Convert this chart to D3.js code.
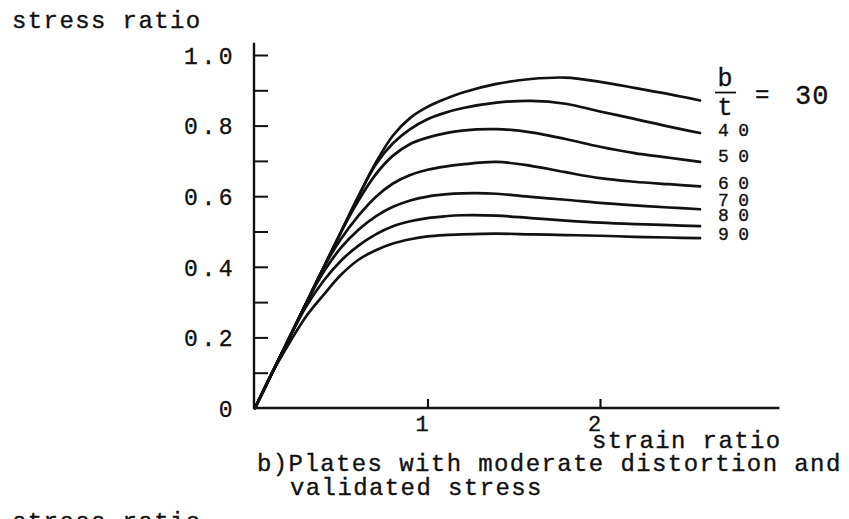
<!DOCTYPE html>
<html><head><meta charset="utf-8">
<script src="https://cdn.jsdelivr.net/npm/d3@7"></script>
<style>
html,body{margin:0;padding:0;background:#fff;}
svg{display:block;}
text{font-family:"Liberation Mono","DejaVu Sans Mono",monospace;fill:#111;stroke:#111;stroke-width:0.35px;}
</style></head>
<body>
<svg id="chart" width="849" height="519"></svg>
<script>
// ---- data ----
const strain = [0,0.1,0.2,0.3,0.4,0.5,0.6,0.7,0.8,0.9,1.0,1.1,1.2,1.4,1.6,1.8,2.0,2.2,2.4,2.58];
const bt30 = [0,0.1,0.2,0.3,0.4,0.5,0.6,0.695,0.772,0.822,0.853,0.875,0.893,0.918,0.932,0.936,0.924,0.907,0.889,0.871];
const bt40 = [0,0.1,0.2,0.3,0.4,0.5,0.6,0.69,0.75,0.79,0.818,0.836,0.849,0.865,0.870,0.862,0.840,0.819,0.797,0.779];
const bt50 = [0,0.1,0.2,0.3,0.4,0.5,0.588,0.662,0.715,0.748,0.766,0.778,0.786,0.790,0.781,0.762,0.740,0.722,0.709,0.697];
const bt60 = [0,0.1,0.2,0.3,0.4,0.48,0.545,0.598,0.636,0.660,0.675,0.684,0.690,0.697,0.686,0.668,0.651,0.641,0.634,0.628];
const bt70 = [0,0.1,0.2,0.3,0.387,0.455,0.505,0.543,0.570,0.588,0.599,0.605,0.608,0.607,0.598,0.590,0.581,0.574,0.568,0.563];
const bt80 = [0,0.1,0.2,0.29,0.362,0.418,0.46,0.492,0.515,0.529,0.538,0.543,0.546,0.545,0.538,0.531,0.525,0.521,0.518,0.515];
const bt90 = [0,0.1,0.185,0.262,0.322,0.378,0.42,0.447,0.466,0.478,0.486,0.490,0.492,0.494,0.492,0.490,0.488,0.485,0.483,0.481];
const seriesNames = ["30","40","50","60","70","80","90"];
const seriesValues = [bt30,bt40,bt50,bt60,bt70,bt80,bt90];
const yTickValues = [0,0.1,0.2,0.3,0.4,0.5,0.6,0.7,0.8,0.9,1.0];
const yTickLabels = ["0","","0.2","","0.4","","0.6","","0.8","","1.0"];
const xTickValues = [1,2];
const xTickLabels = ["1","2"];

// ---- layout ----
const svg = d3.select("#chart");
const x = d3.scaleLinear().domain([0,3]).range([255,772.5]);
const y = d3.scaleLinear().domain([0,1]).range([408,55]);
const labelDy = [0,-3,-6,-4,-10,-12,-5]; // label offsets from curve end (px)

const ink = "#111";

// y axis
const yAxis = d3.axisLeft(y).tickValues(yTickValues).tickSizeInner(-14).tickSizeOuter(0)
  .tickFormat((d,i)=>yTickLabels[i]).tickPadding(18);
const gy = svg.append("g").attr("transform",`translate(${x(0)-1},0)`).call(yAxis);
gy.select(".domain").remove();
gy.selectAll(".tick line").attr("stroke",ink).attr("stroke-width",2).filter(d=>d===0).remove();
gy.selectAll(".tick text").attr("font-size",23).attr("letter-spacing","3.5px")
  .attr("font-family","Liberation Mono").attr("fill",ink).attr("dy","0.36em");
svg.append("line").attr("x1",x(0)-1).attr("x2",x(0)-1).attr("y1",y(0)+1).attr("y2",y(1.035))
  .attr("stroke",ink).attr("stroke-width",2.4);

// x axis
const xAxis = d3.axisBottom(x).tickValues(xTickValues).tickSizeInner(-9).tickSizeOuter(0)
  .tickFormat((d,i)=>xTickLabels[i]).tickPadding(5);
const gx = svg.append("g").attr("transform",`translate(0,${y(0)})`).call(xAxis);
gx.select(".domain").remove();
gx.selectAll(".tick line").attr("stroke",ink).attr("stroke-width",2.2);
gx.selectAll(".tick text").attr("font-size",22).attr("font-family","Liberation Mono")
  .attr("fill",ink).attr("dx","-6").attr("dy","0.8em");
svg.append("line").attr("x1",x(0)-2).attr("x2",x(3.04)).attr("y1",y(0)).attr("y2",y(0))
  .attr("stroke",ink).attr("stroke-width",2.4);

// curves
const line = d3.line().x((d,i)=>x(strain[i])).y(d=>y(d)).curve(d3.curveCatmullRom.alpha(0.5));
svg.append("g").selectAll("path").data(seriesValues).join("path")
  .attr("d",line).attr("fill","none").attr("stroke",ink).attr("stroke-width",2.7)
  .attr("stroke-linejoin","round").attr("stroke-linecap","round");

// curve labels
const last = strain.length-1;
const lx = x(strain[last]) + 18;
seriesNames.forEach((nm,i)=>{
  if(i===0) return;
  svg.append("text").attr("x",lx).attr("y",y(seriesValues[i][last])+labelDy[i])
    .attr("dy","0.35em").attr("font-size",18).attr("letter-spacing","9.5px")
    .attr("stroke-width",0.2).text(nm);
});
// b/t = 30
const ly30 = y(bt30[last]);
svg.append("text").attr("x",lx+7).attr("y",ly30-15).attr("text-anchor","middle").attr("font-size",25).text("b");
svg.append("line").attr("x1",lx-3).attr("x2",lx+18).attr("y1",ly30-8).attr("y2",ly30-8).attr("stroke",ink).attr("stroke-width",1.8);
svg.append("text").attr("x",lx+7).attr("y",ly30+14).attr("text-anchor","middle").attr("font-size",25).text("t");
svg.append("text").attr("x",lx+37).attr("y",ly30+1).attr("font-size",24).text("=");
svg.append("text").attr("x",lx+77).attr("y",ly30+3).attr("font-size",27).attr("letter-spacing","1px").text(seriesNames[0]);

// titles
const tf = {"font-size":24,"letter-spacing":"1.4px"};
function t(txt,xp,yp){const e=svg.append("text").attr("x",xp).attr("y",yp).text(txt);Object.entries(tf).forEach(([k,v])=>e.attr(k,v));return e;}
t("stress ratio",12,28);
t("strain ratio",592,448);
t("b)Plates with moderate distortion and",257,471);
t("validated stress",290,495);
t("stress ratio",12,529);
</script>
</body></html>
